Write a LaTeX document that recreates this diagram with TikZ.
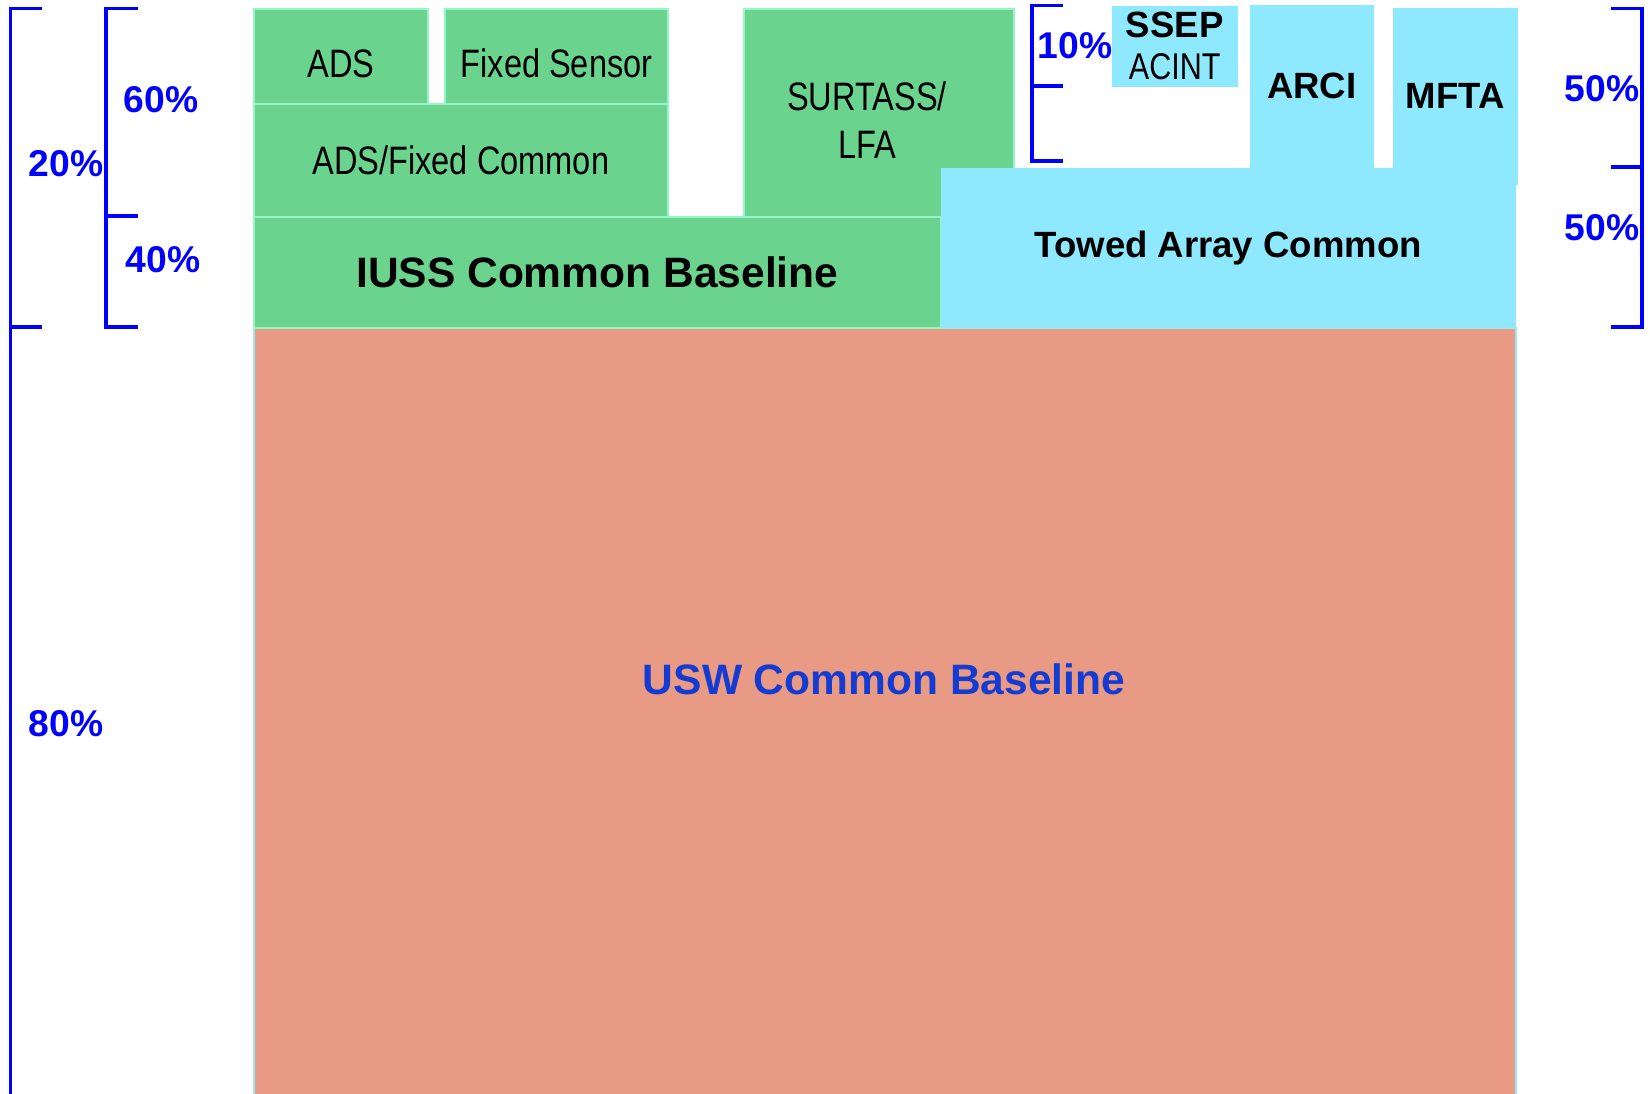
\documentclass[tikz,border=0pt]{standalone}
\usepackage{fontspec}
\setmainfont{Liberation Sans}
\newfontfamily\narrowfont[FakeStretch=0.82]{Liberation Sans}
\usepackage{tikz}
\usetikzlibrary{positioning,calc}
\usepackage{xcolor}
\definecolor{grfill}{RGB}{106,212,142}
\definecolor{grline}{RGB}{150,245,200}
\definecolor{cyfill}{RGB}{142,233,255}
\definecolor{safill}{RGB}{232,154,132}
\definecolor{saline}{RGB}{150,235,240}
\definecolor{pcblue}{RGB}{0,0,255}
\definecolor{uswblue}{RGB}{20,60,210}

\begin{document}
\begin{tikzpicture}[x=0.1mm,y=-0.1mm,
  every node/.style={inner sep=0pt,align=center,},%
  gb/.style={draw=grline,fill=grfill,line width=0.6pt,anchor=north west,},%
  cb/.style={fill=cyfill,anchor=north west,},%
  sb/.style={draw=saline,fill=safill,line width=0.6pt,anchor=north west,},%
  brk/.style={draw=pcblue,line width=0.9pt,},%
  pc/.style={text=pcblue,font=\bfseries\fontsize{10.6}{12}\selectfont,},%
  nw/.style={font=\narrowfont\fontsize{11.3}{13.8}\selectfont,},%
  low/.style={text height=11.7pt,text depth=0pt,},%
  bd/.style={font=\bfseries\fontsize{10.4}{11.4}\selectfont,},%
  big/.style={font=\bfseries\fontsize{12.1}{14}\selectfont,},%
  ]
  \useasboundingbox (0,0) rectangle (1650,1094);

  % base layer
  \node (usw) [sb,minimum width=126.25mm,minimum height=76.7mm] at (252.5,327) {};
  \node (uswtext) [big,text=uswblue] at (884,679) {USW Common Baseline};

  % IUSS side
  \node (ads) [gb,nw,low,minimum width=17.45mm,minimum height=9.46mm] at (252.5,8.4) {ADS};
  \node (fixed) [gb,nw,low,minimum width=22.3mm,minimum height=9.46mm] at (444,8.4) {Fixed Sensor};
  \node (adsfix) [gb,nw,minimum width=41.45mm,minimum height=11.3mm] at (252.5,103) {ADS/Fixed Common};
  \node (surt) [gb,minimum width=27mm,minimum height=20.76mm] at (743,8.4) {};
  \node (surttext) [nw] at (867,120) {SURTASS/\\LFA};
  \node (iuss) [gb,big,minimum width=68.75mm,minimum height=11.1mm] at (252.5,216) {IUSS Common Baseline};

  % towed array side
  \node (ssep) [cb,minimum width=12.6mm,minimum height=8.1mm] at (1111,5)
  {{\bfseries\fontsize{10.4}{11}\selectfont SSEP}\\{\narrowfont\fontsize{10.6}{11}\selectfont ACINT}};
  \node (arci) [cb,bd,minimum width=12.4mm,minimum height=16.3mm] at (1249,4) {ARCI};
  \node (mfta) [cb,bd,minimum width=12.5mm,minimum height=17.7mm] at (1392,7) {MFTA};
  \node (towed) [cb,bd,minimum width=57.5mm,minimum height=16mm] at (940,167) {Towed Array Common};

  % brackets
  \draw [brk] (42,8.4) -- (10.5,8.4) -- (10.5,1094);
  \draw [brk] (10.5,327) -- (42,327);
  \draw [brk] (138,8.4) -- (106,8.4) -- (106,327) -- (138,327);
  \draw [brk] (106,216) -- (138,216);
  \draw [brk] (1063,5.3) -- (1032,5.3) -- (1032,161) -- (1063,161);
  \draw [brk] (1032,86) -- (1063,86);
  \draw [brk] (1611,8.4) -- (1642,8.4) -- (1642,327) -- (1611,327);
  \draw [brk] (1642,167) -- (1611,167);

  \node (p20) [pc] at (66,164) {20\%};
  \node (p80) [pc] at (66,724) {80\%};
  \node (p60) [pc] at (161,100) {60\%};
  \node (p40) [pc] at (163,260) {40\%};
  \node (p10) [pc] at (1075,46) {10\%};
  \node (p50a) [pc] at (1602,89) {50\%};
  \node (p50b) [pc] at (1602,228) {50\%};
\end{tikzpicture}
\end{document}
